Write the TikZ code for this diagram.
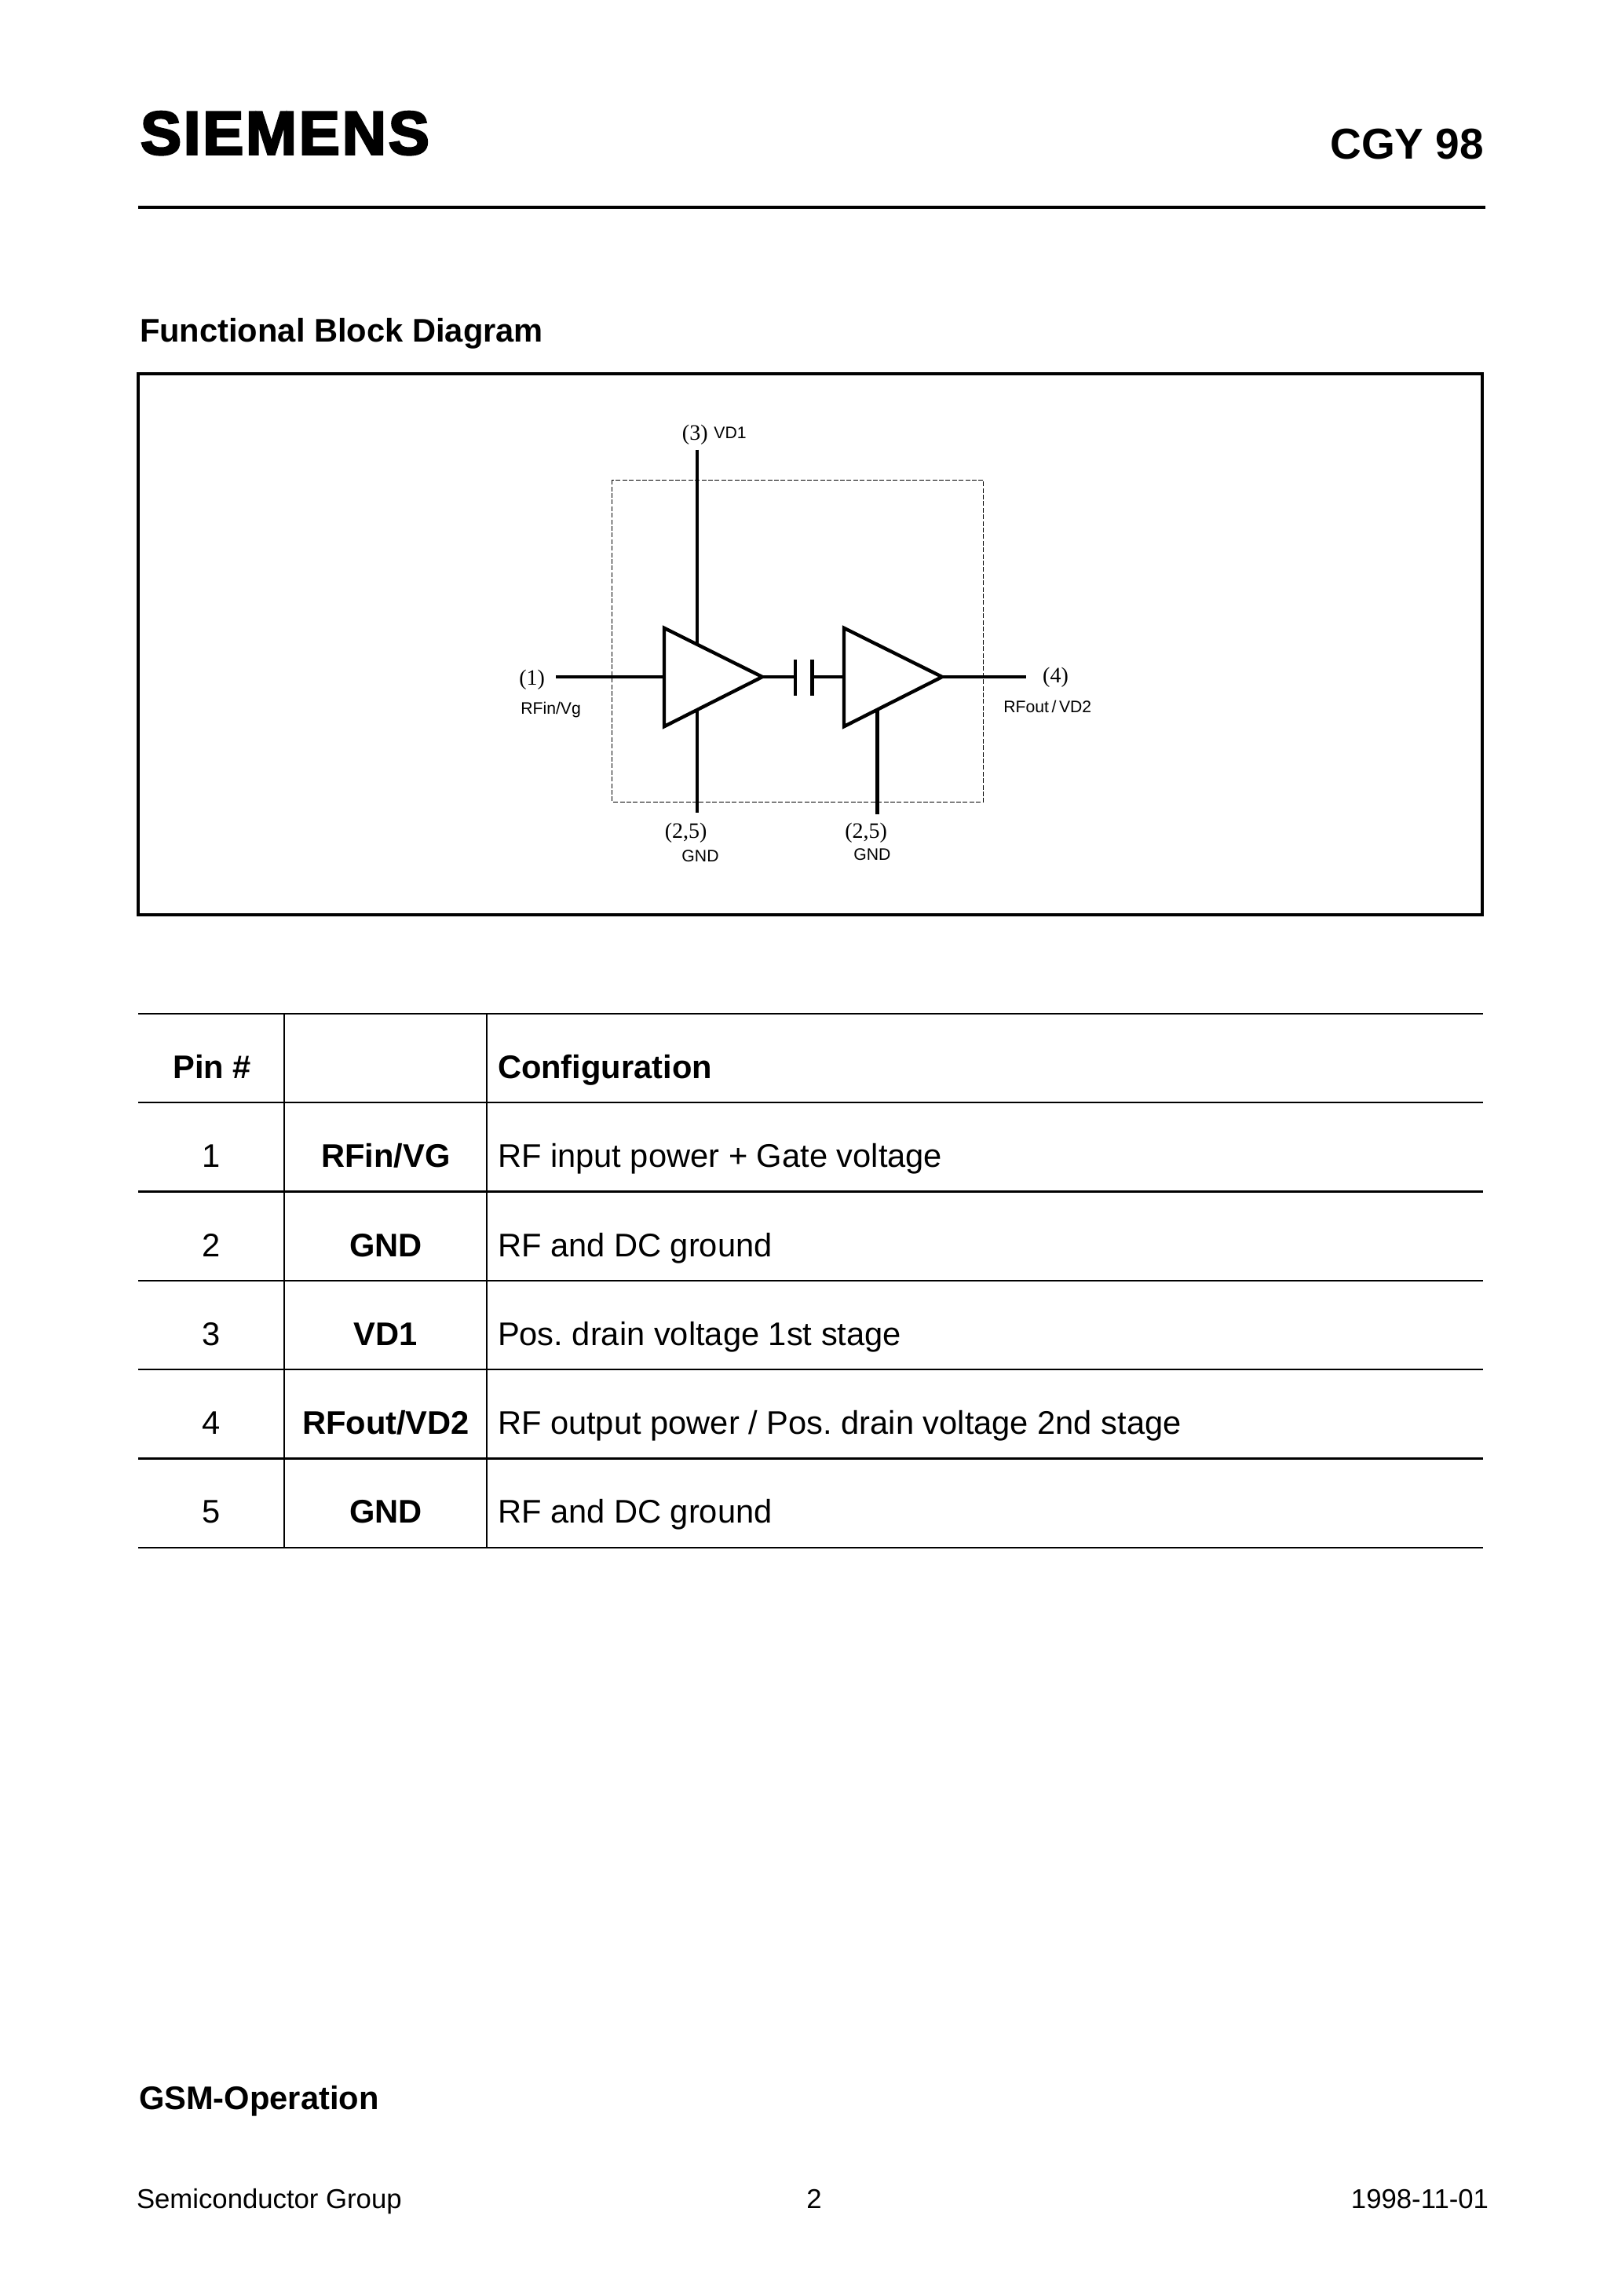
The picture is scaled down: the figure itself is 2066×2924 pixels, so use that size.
\documentclass[tikz,border=0pt]{standalone}
\usepackage{fontspec}
\setmainfont{Liberation Sans}
\newfontfamily\timesf{Liberation Serif}
\newfontfamily\logofont[FakeBold=3.5,LetterSpace=3.6]{Liberation Sans Bold}
\newcommand{\fs}[1]{\fontsize{#1}{#1}\selectfont}
\tikzset{
  txt/.style={inner sep=0pt,outer sep=0pt,anchor=base west},
  ctxt/.style={inner sep=0pt,outer sep=0pt,anchor=base},
  rtxt/.style={inner sep=0pt,outer sep=0pt,anchor=base east},
  heading/.style={txt,font=\bfseries\fs{20.83}},
  body/.style={txt,font=\fs{20.83}},
  pinno/.style={ctxt,font=\fs{20.83}},
  pinname/.style={ctxt,font=\bfseries\fs{20.83}},
  foot/.style={font=\fs{17.36}},
  pinlab/.style={inner sep=0pt,outer sep=0pt,font=\timesf\fs{14}},
  siglab/.style={inner sep=0pt,outer sep=0pt,font=\fs{10.6}},
  wire/.style={line width=2.2pt,line cap=butt},
  amp/.style={line width=2.2pt,line join=miter},
  rule/.style={line width=1.1pt},
  thickrule/.style={line width=1.5pt},
  vrule/.style={line width=0.9pt},
}
\begin{document}
\frenchspacing
\begin{tikzpicture}[x=0.5pt,y=-0.5pt]
\useasboundingbox (0,0) rectangle (2066,2924);
% header
\node[txt,font=\logofont\fs{39}] (logo) at (179,196.5) {SIEMENS};
\node[rtxt,font=\bfseries\fs{27.5}] (part) at (1890,202.7) {CGY 98};
\draw[line width=2pt] (176,263.7) -- (1892,263.7);
\node[heading] (fbd) at (178,435) {Functional Block Diagram};
% diagram frame
\draw[line width=2pt] (175.5,476) rectangle (1888,1165);
\draw[line width=0.55pt,dash pattern=on 3pt off 1.2pt] (779.7,611.2) rectangle (1252.7,1021.3);
% amplifier vertices
\coordinate (a1t) at (846,799.8);
\coordinate (a1b) at (846,925.2);
\coordinate (a1o) at (971,862);
\coordinate (a1i) at (846,862);
\coordinate (a2t) at (1075,799.8);
\coordinate (a2b) at (1075,925.2);
\coordinate (a2o) at (1200,862);
\coordinate (a2i) at (1075,862);
\coordinate (in) at (708,862);
\coordinate (out) at (1307,862);
\coordinate (vd) at (888,572.5);
\coordinate (vdt) at (888,818.5);
\coordinate (g1t) at (888,905);
\coordinate (g1) at (888,1035);
\coordinate (g2t) at (1117.5,903);
\coordinate (g2) at (1117.5,1036.7);
\coordinate (c1) at (1013,862);
\coordinate (c2) at (1034.3,862);
\coordinate (c1t) at (1013,840.2);
\coordinate (c1b) at (1013,885.6);
\coordinate (c2t) at (1034.3,840.2);
\coordinate (c2b) at (1034.3,885.6);
\draw[amp] (a1t) -- (a1o) -- (a1b) -- cycle;
\draw[amp] (a2t) -- (a2o) -- (a2b) -- cycle;
\draw[wire] (in) -- (a1i);
\draw[wire] (a1o) -- (c1);
\draw[wire] (c2) -- (a2i);
\draw[wire] (a2o) -- (out);
\draw[wire] (c1t) -- (c1b);
\draw[wire] (c2t) -- (c2b);
\draw[wire] (vd) -- (vdt);
\draw[wire] (g1t) -- (g1);
\draw[wire] (g2t) -- (g2);
% diagram labels
\node[pinlab] (p3) at (885.3,554) {(3)};
\node[siglab] (vd1) at (930,551.5) {VD1};
\node[pinlab] (p1) at (677.7,866) {(1)};
\node[siglab] (rfin) at (701.6,904.5) {RFin/Vg};
\node[pinlab] (p4) at (1344.5,862.5) {(4)};
\node[siglab] (rfout) at (1334.3,899.5) {RFout\,/\,VD2};
\node[pinlab] (p25a) at (873.6,1060.5) {(2,5)};
\node[pinlab] (p25b) at (1103.2,1060.5) {(2,5)};
\node[siglab] (gnda) at (892,1090) {GND};
\node[siglab] (gndb) at (1110.8,1088) {GND};
% table
\draw[rule] (176,1290.7) -- (1889,1290.7);
\draw[rule] (176,1404) -- (1889,1404);
\draw[thickrule] (176,1517.5) -- (1889,1517.5);
\draw[rule] (176,1631) -- (1889,1631);
\draw[rule] (176,1744) -- (1889,1744);
\draw[thickrule] (176,1857.3) -- (1889,1857.3);
\draw[rule] (176,1971) -- (1889,1971);
\draw[vrule] (362,1290.7) -- (362,1971);
\draw[vrule] (620,1290.7) -- (620,1971);
\node[pinname] (h1) at (270,1373.3) {Pin \#};
\node[heading] (h3) at (634,1373.3) {Configuration};
\node[pinno] (n1) at (269.5,1486.7) {1};
\node[pinname] (m1) at (491.5,1486.7) {RFin/VG};
\node[body] (d1) at (634,1486.7) {RF input power + Gate voltage};
\node[pinno] (n2) at (269.5,1600) {2};
\node[pinname] (m2) at (491.5,1600) {GND};
\node[body] (d2) at (634,1600) {RF and DC ground};
\node[pinno] (n3) at (269.5,1713.5) {3};
\node[pinname] (m3) at (491.5,1713.5) {VD1};
\node[body] (d3) at (634,1713.5) {Pos. drain voltage 1st stage};
\node[pinno] (n4) at (269.5,1826.5) {4};
\node[pinname] (m4) at (491.5,1826.5) {RFout/VD2};
\node[body] (d4) at (634,1826.5) {RF output power / Pos. drain voltage 2nd stage};
\node[pinno] (n5) at (269.5,1939.5) {5};
\node[pinname] (m5) at (491.5,1939.5) {GND};
\node[body] (d5) at (634,1939.5) {RF and DC ground};
% footer
\node[heading] (gsm) at (177,2686.5) {GSM-Operation};
\node[txt,foot] (sg) at (174,2812.3) {Semiconductor Group};
\node[ctxt,foot] (pg) at (1037,2812.3) {2};
\node[rtxt,foot] (dt) at (1896,2812.3) {1998-11-01};
\end{tikzpicture}
\end{document}
